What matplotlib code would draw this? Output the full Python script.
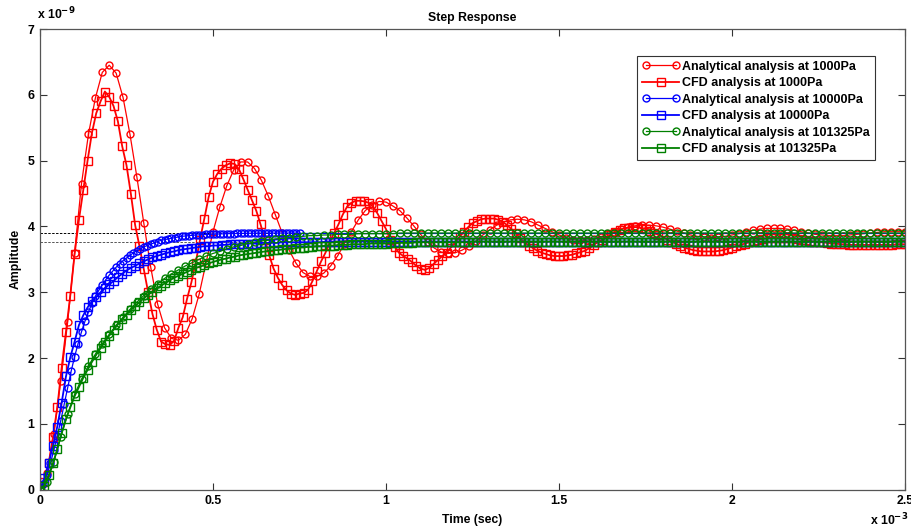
import matplotlib
matplotlib.use('Agg')
import matplotlib.pyplot as plt
import numpy as np
from matplotlib.legend_handler import HandlerLine2D

plt.rcParams['font.family'] = ['Liberation Sans', 'DejaVu Sans']
plt.rcParams['font.weight'] = 'bold'

# amplitude in units of 1e-9, time in units of 1e-3 s (ms)

# analytical curves sampled every 0.02 ms
ana_1000 = [
    0.00, 0.25, 0.85, 1.65, 2.55,
    3.60, 4.65, 5.40, 5.95, 6.34,
    6.45, 6.33, 5.96, 5.40, 4.75,
    4.05, 3.38, 2.82, 2.46, 2.30,
    2.27, 2.36, 2.60, 2.97, 3.45,
    3.92, 4.30, 4.62, 4.86, 4.98,
    4.98, 4.88, 4.70, 4.46, 4.18,
    3.90, 3.64, 3.44, 3.30, 3.24,
    3.24, 3.29, 3.40, 3.55, 3.74,
    3.92, 4.10, 4.24, 4.33, 4.38,
    4.37, 4.31, 4.24, 4.13, 4.01,
    3.88, 3.76, 3.67, 3.61, 3.59,
    3.60, 3.64, 3.70, 3.78, 3.87,
    3.95, 4.02, 4.07, 4.10, 4.11,
    4.10, 4.07, 4.02, 3.97, 3.92,
    3.87, 3.83, 3.80, 3.79, 3.79,
    3.81, 3.84, 3.88, 3.92, 3.96,
    3.99, 4.01, 4.02, 4.02, 4.01,
    3.99, 3.96, 3.93, 3.90, 3.87,
    3.85, 3.84, 3.83, 3.84, 3.85,
    3.87, 3.89, 3.92, 3.94, 3.96,
    3.97, 3.97, 3.97, 3.96, 3.94,
    3.92, 3.90, 3.88, 3.87, 3.86,
    3.86, 3.86, 3.87, 3.88, 3.89,
    3.90, 3.91, 3.92, 3.92, 3.92,
    3.92,
]

ana_101325 = [
    0.00, 0.12, 0.42, 0.80, 1.15,
    1.45, 1.68, 1.88, 2.06, 2.22,
    2.36, 2.50, 2.62, 2.74, 2.85,
    2.95, 3.05, 3.13, 3.21, 3.28,
    3.34, 3.40, 3.45, 3.50, 3.55,
    3.59, 3.62, 3.66, 3.69, 3.71,
    3.74, 3.76, 3.78, 3.79, 3.81,
    3.82, 3.83, 3.84, 3.85, 3.86,
    3.86, 3.87, 3.87, 3.88, 3.88,
    3.88, 3.89, 3.89, 3.89, 3.89,
    3.89, 3.89, 3.90, 3.90, 3.90,
    3.90, 3.90, 3.90, 3.90, 3.90,
    3.90, 3.90, 3.90, 3.90, 3.90,
    3.90, 3.90, 3.90, 3.90, 3.90,
    3.90, 3.90, 3.90, 3.90, 3.90,
    3.90, 3.90, 3.90, 3.90, 3.90,
    3.90, 3.90, 3.90, 3.90, 3.90,
    3.90, 3.90, 3.90, 3.90, 3.90,
    3.90, 3.90, 3.90, 3.90, 3.90,
    3.90, 3.90, 3.90, 3.90, 3.90,
    3.90, 3.90, 3.90, 3.90, 3.90,
    3.90, 3.90, 3.90, 3.90, 3.90,
    3.90, 3.90, 3.90, 3.90, 3.90,
    3.90, 3.90, 3.90, 3.90, 3.90,
    3.90, 3.90, 3.90, 3.90, 3.90,
    3.90,
]

# analytical 10000Pa sampled every 0.01 ms up to 0.75 ms
ana_10000 = [
    0.00, 0.08, 0.22, 0.40, 0.60, 0.82, 1.05, 1.30, 1.55, 1.80,
    2.02, 2.22, 2.40, 2.56, 2.70, 2.83, 2.94, 3.03, 3.11, 3.19,
    3.26, 3.32, 3.38, 3.43, 3.48, 3.52, 3.56, 3.60, 3.63, 3.66,
    3.69, 3.71, 3.73, 3.75, 3.77, 3.79, 3.80, 3.81, 3.82, 3.83,
    3.84, 3.85, 3.855, 3.86, 3.865, 3.87, 3.872, 3.875, 3.878, 3.88,
    3.882, 3.884, 3.886, 3.888, 3.89, 3.891, 3.892, 3.893, 3.894, 3.895,
    3.896, 3.897, 3.897, 3.898, 3.898, 3.899, 3.899, 3.899, 3.90, 3.90,
    3.90, 3.90, 3.90, 3.90, 3.90, 3.90,
]
tail_10000_t = [0.75, 2.5]
tail_10000 = [3.90, 3.90]

# CFD curves sampled every 0.0125 ms
cfd_1000 = [
    0.00, 0.12, 0.40, 0.80, 1.25, 1.85, 2.40, 2.95,
    3.58, 4.10, 4.55, 5.00, 5.42, 5.72, 5.90, 6.05,
    5.97, 5.83, 5.60, 5.22, 4.93, 4.50, 4.02, 3.70,
    3.35, 3.00, 2.67, 2.43, 2.25, 2.21, 2.20, 2.26,
    2.46, 2.62, 2.90, 3.15, 3.45, 3.80, 4.12, 4.45,
    4.68, 4.80, 4.88, 4.93, 4.96, 4.95, 4.87, 4.72,
    4.56, 4.40, 4.24, 4.03, 3.80, 3.56, 3.36, 3.22,
    3.11, 3.03, 2.98, 2.96, 2.98, 2.99, 3.04, 3.17,
    3.32, 3.47, 3.60, 3.76, 3.90, 4.03, 4.18, 4.30,
    4.36, 4.39, 4.39, 4.38, 4.36, 4.30, 4.20, 4.08,
    3.96, 3.80, 3.69, 3.60, 3.55, 3.51, 3.46, 3.40,
    3.36, 3.34, 3.37, 3.43, 3.49, 3.55, 3.60, 3.68,
    3.76, 3.84, 3.92, 3.99, 4.05, 4.08, 4.11, 4.12,
    4.12, 4.12, 4.10, 4.07, 4.02, 3.96, 3.90, 3.82,
    3.76, 3.71, 3.67, 3.63, 3.60, 3.58, 3.56, 3.55,
    3.55, 3.55, 3.56, 3.57, 3.59, 3.61, 3.63, 3.67,
    3.72, 3.76, 3.80, 3.84, 3.88, 3.92, 3.95, 3.97,
    3.98, 3.99, 3.99, 3.98, 3.96, 3.93, 3.90, 3.87,
    3.84, 3.80, 3.77, 3.74, 3.71, 3.68, 3.66, 3.64,
    3.63, 3.62, 3.62, 3.62, 3.62, 3.63, 3.64, 3.66,
    3.68, 3.70, 3.72, 3.74, 3.76, 3.78, 3.80, 3.81,
    3.82, 3.83, 3.83, 3.83, 3.83, 3.82, 3.82, 3.81,
    3.80, 3.79, 3.78, 3.77, 3.76, 3.76, 3.75, 3.74,
    3.74, 3.73, 3.73, 3.72, 3.72, 3.72, 3.72, 3.72,
    3.72, 3.72, 3.72, 3.72, 3.72, 3.72, 3.73, 3.73,
    3.73,
]

cfd_10000 = [
    0.00, 0.18, 0.40, 0.67, 0.96, 1.32, 1.72, 2.01,
    2.25, 2.50, 2.65, 2.77, 2.86, 2.93, 3.00, 3.06,
    3.12, 3.17, 3.23, 3.28, 3.33, 3.37, 3.40, 3.44,
    3.47, 3.50, 3.53, 3.55, 3.57, 3.59, 3.61, 3.62,
    3.64, 3.65, 3.66, 3.67, 3.68, 3.69, 3.70, 3.70,
    3.71, 3.71, 3.72, 3.72, 3.73, 3.73, 3.73, 3.74,
    3.74, 3.74, 3.74, 3.75, 3.75, 3.75, 3.75, 3.75,
    3.76, 3.76, 3.76, 3.76, 3.76, 3.76, 3.76, 3.76,
    3.76, 3.76, 3.77, 3.77, 3.77, 3.77, 3.77, 3.77,
    3.77, 3.77, 3.77, 3.77, 3.77, 3.77, 3.77, 3.77,
    3.77, 3.77, 3.77, 3.77, 3.77, 3.77, 3.77, 3.77,
    3.77, 3.77, 3.77, 3.77, 3.77, 3.77, 3.77, 3.77,
    3.77, 3.77, 3.77, 3.77, 3.77, 3.77, 3.77, 3.77,
    3.77, 3.77, 3.77, 3.77, 3.77, 3.77, 3.77, 3.77,
    3.77, 3.77, 3.77, 3.77, 3.77, 3.77, 3.77, 3.77,
    3.77, 3.77, 3.77, 3.77, 3.77, 3.77, 3.77, 3.77,
    3.77, 3.77, 3.77, 3.77, 3.77, 3.77, 3.77, 3.77,
    3.77, 3.77, 3.77, 3.77, 3.77, 3.77, 3.77, 3.77,
    3.77, 3.77, 3.77, 3.77, 3.77, 3.77, 3.77, 3.77,
    3.77, 3.77, 3.77, 3.77, 3.77, 3.77, 3.77, 3.77,
    3.77, 3.77, 3.77, 3.77, 3.77, 3.77, 3.77, 3.77,
    3.77, 3.77, 3.77, 3.77, 3.77, 3.77, 3.77, 3.77,
    3.77, 3.77, 3.77, 3.77, 3.77, 3.77, 3.77, 3.77,
    3.77, 3.77, 3.77, 3.77, 3.77, 3.77, 3.77, 3.77,
    3.77, 3.77, 3.77, 3.77, 3.77, 3.77, 3.77, 3.77,
    3.77,
]

cfd_101325 = [
    0.00, 0.06, 0.22, 0.40, 0.62, 0.86, 1.07, 1.25,
    1.42, 1.56, 1.70, 1.82, 1.94, 2.05, 2.15, 2.25,
    2.34, 2.43, 2.51, 2.59, 2.66, 2.73, 2.79, 2.85,
    2.91, 2.96, 3.01, 3.06, 3.10, 3.14, 3.18, 3.22,
    3.25, 3.28, 3.31, 3.34, 3.37, 3.39, 3.41, 3.44,
    3.46, 3.48, 3.50, 3.51, 3.53, 3.54, 3.56, 3.57,
    3.58, 3.59, 3.60, 3.61, 3.62, 3.63, 3.64, 3.64,
    3.65, 3.66, 3.66, 3.67, 3.68, 3.68, 3.69, 3.69,
    3.70, 3.70, 3.71, 3.71, 3.71, 3.72, 3.72, 3.72,
    3.73, 3.73, 3.73, 3.73, 3.74, 3.74, 3.74, 3.74,
    3.74, 3.75, 3.75, 3.75, 3.75, 3.75, 3.75, 3.76,
    3.76, 3.76, 3.76, 3.76, 3.76, 3.76, 3.76, 3.76,
    3.76, 3.76, 3.76, 3.76, 3.77, 3.77, 3.77, 3.77,
    3.77, 3.77, 3.77, 3.77, 3.77, 3.77, 3.77, 3.77,
    3.77, 3.77, 3.77, 3.77, 3.77, 3.77, 3.77, 3.77,
    3.77, 3.77, 3.77, 3.77, 3.77, 3.77, 3.77, 3.77,
    3.77, 3.77, 3.77, 3.77, 3.77, 3.77, 3.77, 3.77,
    3.77, 3.77, 3.77, 3.77, 3.77, 3.77, 3.77, 3.77,
    3.77, 3.77, 3.77, 3.77, 3.77, 3.77, 3.77, 3.77,
    3.77, 3.77, 3.77, 3.77, 3.77, 3.77, 3.77, 3.77,
    3.77, 3.77, 3.77, 3.77, 3.77, 3.77, 3.77, 3.77,
    3.77, 3.77, 3.77, 3.77, 3.77, 3.77, 3.77, 3.77,
    3.77, 3.77, 3.77, 3.77, 3.77, 3.77, 3.77, 3.77,
    3.77, 3.77, 3.77, 3.77, 3.77, 3.77, 3.77, 3.77,
    3.77, 3.77, 3.77, 3.77, 3.77, 3.77, 3.77, 3.77,
    3.77,
]

steady_ana = 3.90
steady_cfd = 3.77

labels = ['Analytical analysis at 1000Pa', 'CFD analysis at 1000Pa',
          'Analytical analysis at 10000Pa', 'CFD analysis at 10000Pa',
          'Analytical analysis at 101325Pa', 'CFD analysis at 101325Pa']

t_ana = np.arange(len(ana_1000)) * 0.02
t_ana_blue = np.arange(len(ana_10000)) * 0.01
t_cfd = np.arange(len(cfd_1000)) * 0.0125

fig = plt.figure(figsize=(9.12, 5.27), dpi=100)
ax = fig.add_axes([40 / 912, 37.3 / 527, 865 / 912, 460.7 / 527])

# steady state reference lines
ax.axhline(steady_ana, color='k', ls=(0, (2.5, 1.5)), lw=0.7, zorder=0.5)
ax.axhline(steady_cfd, color='#555555', ls=(0, (2.5, 1.5)), lw=0.7, zorder=0.5)

ana_style = dict(lw=0.9, marker='o', ms=5.0, mfc='none', mew=1.0)
cfd_style = dict(lw=1.3, marker='s', ms=5.6, mfc='none', mew=1.0)

l1, = ax.plot(t_ana, ana_1000, color='r', label=labels[0], **ana_style)
l2, = ax.plot(t_cfd, cfd_1000, color='r', label=labels[1], **cfd_style)
ax.plot(tail_10000_t, tail_10000, color='b', lw=0.9)
l3, = ax.plot(t_ana_blue, ana_10000, color='b', label=labels[2], **ana_style)
l4, = ax.plot(t_cfd, cfd_10000, color='b', label=labels[3], **cfd_style)
l5, = ax.plot(t_ana, ana_101325, color='#008000', label=labels[4], **ana_style)
l6, = ax.plot(t_cfd, cfd_101325, color='#008000', label=labels[5], **cfd_style)

ax.set_xlim(0, 2.5)
ax.set_ylim(0, 7)
ax.set_xticks([0, 0.5, 1, 1.5, 2, 2.5])
ax.set_xticklabels(['0', '0.5', '1', '1.5', '2', '2.5'])
ax.set_yticks(range(8))
ax.tick_params(direction='in', top=True, right=True, length=5, width=0.8,
               labelsize=8.8, pad=4, color='#333333')
for s in ax.spines.values():
    s.set_color('#555555')
    s.set_linewidth(0.9)

ax.set_title('Step Response', fontsize=8.8, fontweight='bold', pad=6)
ax.set_xlabel('Time (sec)', fontsize=8.8, fontweight='bold', labelpad=5)
ax.set_ylabel('Amplitude', fontsize=8.8, fontweight='bold', labelpad=4)

fig.text(37 / 912, 1 - 19 / 527, r'x 10$^{\mathbf{-9}}$', fontsize=8.8, fontweight='bold')
fig.text(870 / 912, 1 - 525 / 527, r'x 10$^{\mathbf{-3}}$', fontsize=8.8, fontweight='bold')

hmap = {l1: HandlerLine2D(numpoints=2), l3: HandlerLine2D(numpoints=2),
        l5: HandlerLine2D(numpoints=2)}
leg = ax.legend(handles=[l1, l2, l3, l4, l5, l6], handler_map=hmap,
                loc='upper left', bbox_to_anchor=(0.69, 0.942),
                prop={'weight': 'bold', 'size': 9},
                fancybox=False, framealpha=1, edgecolor='#333333',
                handlelength=3.0, handletextpad=0.2, labelspacing=0.36,
                borderpad=0.4, borderaxespad=0)
leg.get_frame().set_linewidth(0.8)

plt.savefig('out.png', dpi=100)
